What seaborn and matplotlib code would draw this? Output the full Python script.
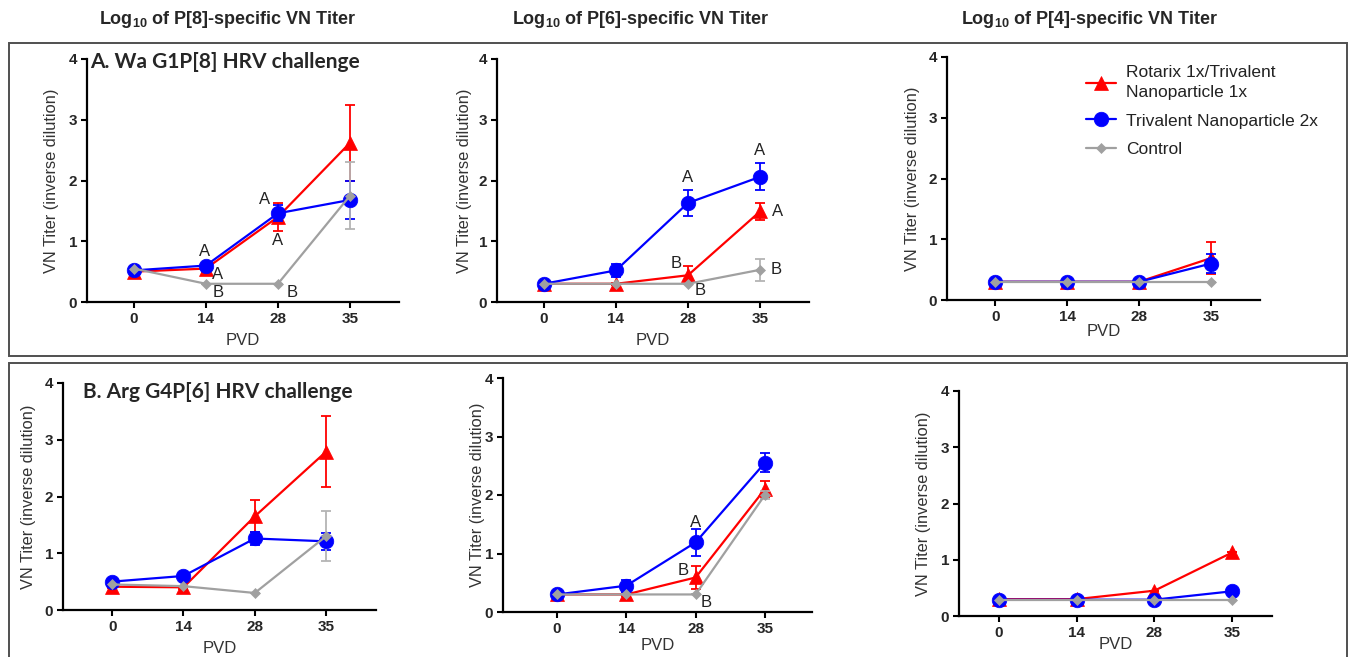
import matplotlib.pyplot as plt
import seaborn as sns
import pandas as pd
from matplotlib.patches import Rectangle

# categories / labels
days = ["0", "14", "28", "35"]
groups = ["Rotarix 1x/Trivalent\nNanoparticle 1x", "Trivalent Nanoparticle 2x", "Control"]
headers = ["Log$_{10}$ of P[8]-specific VN Titer",
           "Log$_{10}$ of P[6]-specific VN Titer",
           "Log$_{10}$ of P[4]-specific VN Titer"]
row_titles = ["A. Wa G1P[8] HRV challenge", "B. Arg G4P[6] HRV challenge"]

# row A (Wa challenge) - P[8] titer
a1_rot = [0.50, 0.55, 1.40, 2.62]
a1_rot_err = [0.05, 0.05, 0.23, 0.63]
a1_tri = [0.52, 0.60, 1.46, 1.68]
a1_tri_err = [0.04, 0.04, 0.13, 0.32]
a1_ctl = [0.55, 0.30, 0.30, 1.75]
a1_ctl_err = [0.05, 0.0, 0.0, 0.55]
a1_letters = [(1, 1, "A"), (0, 1, "A"), (2, 1, "B"), (1, 2, "A"), (0, 2, "A"), (2, 2, "B")]

# row A - P[6] titer
a2_rot = [0.30, 0.30, 0.44, 1.49]
a2_rot_err = [0.02, 0.02, 0.15, 0.14]
a2_tri = [0.30, 0.52, 1.63, 2.06]
a2_tri_err = [0.02, 0.11, 0.22, 0.22]
a2_ctl = [0.30, 0.30, 0.30, 0.53]
a2_ctl_err = [0.0, 0.0, 0.0, 0.18]
a2_letters = [(1, 2, "A"), (1, 3, "A"), (0, 3, "A"), (0, 2, "B"), (2, 2, "B"), (2, 3, "B")]

# row A - P[4] titer
a3_rot = [0.30, 0.30, 0.30, 0.69]
a3_rot_err = [0.0, 0.0, 0.0, 0.27]
a3_tri = [0.30, 0.30, 0.30, 0.60]
a3_tri_err = [0.0, 0.0, 0.0, 0.16]
a3_ctl = [0.30, 0.30, 0.30, 0.30]
a3_ctl_err = [0.0, 0.0, 0.0, 0.0]

# row B (Arg challenge) - P[8] titer
b1_rot = [0.41, 0.40, 1.65, 2.79]
b1_rot_err = [0.03, 0.03, 0.28, 0.63]
b1_tri = [0.50, 0.60, 1.26, 1.21]
b1_tri_err = [0.02, 0.02, 0.11, 0.15]
b1_ctl = [0.45, 0.42, 0.30, 1.30]
b1_ctl_err = [0.0, 0.0, 0.0, 0.44]

# row B - P[6] titer
b2_rot = [0.30, 0.30, 0.59, 2.10]
b2_rot_err = [0.02, 0.02, 0.19, 0.14]
b2_tri = [0.30, 0.45, 1.19, 2.55]
b2_tri_err = [0.02, 0.10, 0.23, 0.16]
b2_ctl = [0.30, 0.30, 0.30, 2.00]
b2_ctl_err = [0.0, 0.0, 0.0, 0.07]
b2_letters = [(1, 2, "A"), (0, 2, "B"), (2, 2, "B")]

# row B - P[4] titer
b3_rot = [0.30, 0.30, 0.45, 1.13]
b3_rot_err = [0.0, 0.0, 0.0, 0.0]
b3_tri = [0.29, 0.29, 0.29, 0.44]
b3_tri_err = [0.0, 0.0, 0.0, 0.0]
b3_ctl = [0.29, 0.29, 0.29, 0.29]
b3_ctl_err = [0.0, 0.0, 0.0, 0.0]

W, H = 1351, 657
colors = ["#ff0000", "#0000ff", "#a0a0a0"]
err_colors = ["#ff0000", "#0000ff", "#b4b4b4"]
markers = ["^", "o", "D"]
msizes = [9.5, 10.5, 5.5]

# letter offsets in pixels (layout only)
letter_offsets = {
    0: [(-1, 14), (12, -6), (12, -9), (-13, 14), (0, -24), (14, -9)],
    1: [(0, 25), (0, 26), (18, 0), (-12, 12), (12, -7), (16, 0)],
    4: [(0, 20), (-12, 7), (11, -8)],
}

# pixel layout: left, right, top(y=4), bottom(y=0), xlim, ylabelpad, xlabelpad
layout = [
    (87, 399, 59, 302, (-0.65, 3.68), 7, 5),
    (497, 809, 59, 302, (-0.65, 3.68), 5, 5),
    (947, 1260, 57, 300, (-0.67, 3.68), 6, 0),
    (63, 376, 383, 610, (-0.69, 3.70), 6, 5),
    (503, 812, 378, 612, (-0.78, 3.68), 0, 2),
    (959, 1272, 391, 616, (-0.51, 3.51), 7, -2),
]

panels = [
    ([a1_rot, a1_tri, a1_ctl], [a1_rot_err, a1_tri_err, a1_ctl_err], a1_letters),
    ([a2_rot, a2_tri, a2_ctl], [a2_rot_err, a2_tri_err, a2_ctl_err], a2_letters),
    ([a3_rot, a3_tri, a3_ctl], [a3_rot_err, a3_tri_err, a3_ctl_err], []),
    ([b1_rot, b1_tri, b1_ctl], [b1_rot_err, b1_tri_err, b1_ctl_err], []),
    ([b2_rot, b2_tri, b2_ctl], [b2_rot_err, b2_tri_err, b2_ctl_err], b2_letters),
    ([b3_rot, b3_tri, b3_ctl], [b3_rot_err, b3_tri_err, b3_ctl_err], []),
]

sns.set_style("ticks")
plt.rcParams["font.family"] = ["Liberation Sans", "DejaVu Sans"]
plt.rcParams["mathtext.fontset"] = "custom"
plt.rcParams["mathtext.rm"] = "Liberation Sans:bold"
plt.rcParams["mathtext.it"] = "Liberation Sans:bold"
plt.rcParams["mathtext.bf"] = "Liberation Sans:bold"

fig = plt.figure(figsize=(W / 100, H / 100), dpi=100)

# outer boxes around each row
for top, bot in [(43, 356), (363, 660)]:
    fig.patches.append(Rectangle((9 / W, 1 - bot / H), 1338 / W, (bot - top) / H,
                                 transform=fig.transFigure, fill=False,
                                 edgecolor="#505050", linewidth=1.4))

pos = list(range(len(days)))
for i, (series, errs, letters) in enumerate(panels):
    l, r, t, b, xlim, ypad, xpad = layout[i]
    ax = fig.add_axes([l / W, 1 - b / H, (r - l) / W, (b - t) / H])
    order = [2, 0, 1]
    for g in order:
        df = pd.DataFrame({"pvd": pos, "titer": series[g]})
        ax.errorbar(pos, series[g], yerr=errs[g], fmt="none",
                    ecolor=err_colors[g], elinewidth=1.3, capsize=3.5,
                    capthick=1.3, zorder=2 + g)
        sns.lineplot(data=df, x="pvd", y="titer", ax=ax, color=colors[g],
                     marker=markers[g], markersize=msizes[g],
                     markeredgecolor=colors[g], markeredgewidth=0.5,
                     linewidth=1.6, label=groups[g], legend=False,
                     zorder=3 + g)
    for k, (g, d, txt) in enumerate(letters):
        dx, dy = letter_offsets[i][k]
        ax.annotate(txt, (pos[d], series[g][d]), xytext=(dx, dy),
                    textcoords="offset pixels", ha="center", va="center",
                    fontsize=12, color="#222222")
    ax.set_xlim(*xlim)
    ax.set_ylim(0, 4)
    ax.set_xticks(pos)
    ax.set_xticklabels(days)
    ax.set_yticks([0, 1, 2, 3, 4])
    for lab in ax.get_xticklabels() + ax.get_yticklabels():
        lab.set_fontweight("bold")
        lab.set_fontsize(11)
    ax.tick_params(length=4, width=1.5, color="black", pad=3)
    sns.despine(ax=ax)
    for s in ["left", "bottom"]:
        ax.spines[s].set_linewidth(1.6)
        ax.spines[s].set_color("black")
    ax.set_ylabel("VN Titer (inverse dilution)", fontsize=11.8,
                  color="#333333", labelpad=ypad)
    ax.set_xlabel("PVD", fontsize=12, color="#333333", labelpad=xpad)
    if i == 2:
        handles, labs = ax.get_legend_handles_labels()
        idx = [labs.index(gname) for gname in groups]
        leg = fig.legend([handles[j] for j in idx], groups, loc="upper left",
                         bbox_to_anchor=(1086 / W, 1 - 65 / H), frameon=False,
                         fontsize=12.5, handlelength=1.7, handletextpad=0.6,
                         labelspacing=0.75, borderpad=0, borderaxespad=0)
        for txt in leg.get_texts():
            txt.set_linespacing(1.45)
            txt.set_color("#222222")

# column headers
for x, txt in zip([228, 641, 1090], headers):
    fig.text(x / W, 1 - 20 / H, txt, ha="center", va="center",
             fontsize=13, fontweight="bold",
             family=["Liberation Sans Narrow", "Liberation Sans"])

# row titles
for (x, y), txt in zip([(90, 62), (83, 392)], row_titles):
    fig.text(x / W, 1 - y / H, txt, ha="left", va="center",
             fontsize=15, fontweight="bold", family=["Lato", "DejaVu Sans"])

fig.savefig("out.png", dpi=100)
